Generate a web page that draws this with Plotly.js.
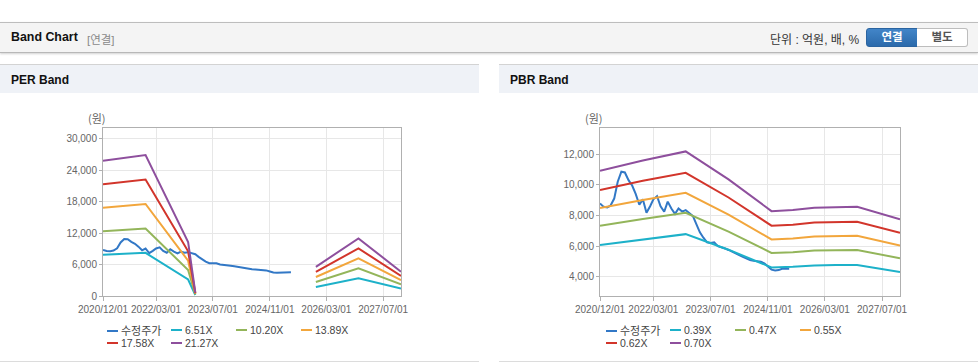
<!DOCTYPE html>
<html>
<head>
<meta charset="utf-8">
<script src="https://cdn.plot.ly/plotly-3.0.1.min.js"></script>
<style>
  html, body { margin:0; padding:0; background:#fff; width:978px; height:364px; overflow:hidden;
    font-family:"Liberation Sans", Arial, "Noto Sans CJK KR", sans-serif; }
  #topbar { position:absolute; left:0; top:22px; width:978px; height:29px; background:#f4f4f4;
    border-top:1px solid #bdbdbd; border-bottom:1px solid #b8b8b8; box-shadow:0 1px 2px rgba(0,0,0,0.18); }
  #topbar .title { position:absolute; left:11px; top:7px; font-size:12.4px; font-weight:bold; color:#111; }
  #topbar .sub { position:absolute; left:87px; top:8px; font-size:11.5px; color:#8a8a8a; }
  #topbar .unit { position:absolute; left:770px; top:7px; font-size:12px; color:#333; }
  .btn { position:absolute; top:5px; height:17px; width:50px; text-align:center; font-size:11.5px; font-weight:bold; line-height:17px; }
  #b1 { left:866px; background:linear-gradient(#4285c8,#2b6aab); color:#fff; border:1px solid #2b64a0; border-radius:3px 0 0 3px; }
  #b2 { left:917px; background:#fff; color:#555; border:1px solid #bdbdbd; border-left:none; border-radius:0 3px 3px 0; }
  .panel { position:absolute; top:64px; width:479px; height:297px; border-bottom:1px solid #dcdcdc; background:#fff; }
  .phead { position:absolute; left:0; top:0; width:479px; height:28px; background:#eff2f7; border-top:1px solid #d3d3d3; }
  .phead span { position:absolute; left:11px; top:8px; font-size:12px; font-weight:bold; color:#111; }
  .plot { position:absolute; left:0; top:29px; width:479px; height:269px; }
  .unitlbl { position:absolute; top:46px; font-size:11px; color:#666; font-family:"Noto Sans CJK KR", sans-serif; }
  .legend { position:absolute; left:0; top:258px; width:479px; height:30px; }
  .litem { position:absolute; height:13px; font-size:10.5px; color:#444; white-space:nowrap; line-height:13px; }
  .litem i { display:inline-block; width:11px; height:2px; vertical-align:middle; margin-right:3px; position:relative; top:-1px; }
  .litem .ko { font-family:"Noto Sans CJK KR", sans-serif; font-size:11px; }
</style>
</head>
<body>
<div id="topbar">
  <div class="title">Band Chart</div>
  <div class="sub">[연결]</div>
  <div class="unit">단위 : 억원, 배, %</div>
  <div class="btn" id="b1">연결</div>
  <div class="btn" id="b2">별도</div>
</div>

<div class="panel" id="perPanel" style="left:0;">
  <div class="phead"><span>PER Band</span></div>
  <div class="plot" id="perPlot"></div>
  <div class="unitlbl" style="left:88px;">(원)</div>
  <div class="legend" id="perLegend"></div>
</div>

<div class="panel" id="pbrPanel" style="left:499px;">
  <div class="phead"><span>PBR Band</span></div>
  <div class="plot" id="pbrPlot"></div>
  <div class="unitlbl" style="left:86px;">(원)</div>
  <div class="legend" id="pbrLegend"></div>
</div>

<script>
// ---------- Data ----------
const xTickVals = ['2020-12-01','2022-03-01','2023-07-01','2024-11-01','2026-03-01','2027-07-01'];
const xTickText = ['2020/12/01','2022/03/01','2023/07/01','2024/11/01','2026/03/01','2027/07/01'];

// 수정주가 (adjusted price), monthly
const priceDates = ['2020-12-01','2021-01-01','2021-02-01','2021-03-01','2021-04-01','2021-05-01','2021-06-01','2021-07-01','2021-08-01','2021-09-01','2021-10-01','2021-11-01',
  '2021-12-01','2022-01-01','2022-02-01','2022-03-01','2022-04-01','2022-05-01','2022-06-01','2022-07-01','2022-08-01','2022-09-01','2022-10-01','2022-11-01',
  '2022-12-01','2023-01-01','2023-02-01','2023-03-01','2023-04-01','2023-05-01','2023-06-01','2023-07-01','2023-08-01','2023-09-01','2023-10-01','2023-11-01',
  '2023-12-01','2024-01-01','2024-02-01','2024-03-01','2024-04-01','2024-05-01','2024-06-01','2024-07-01','2024-08-01','2024-09-01','2024-10-01','2024-11-01',
  '2024-12-01','2025-01-01','2025-02-01','2025-03-01','2025-04-01','2025-05-01'];
const price = [8780,8560,8520,8650,9100,10200,10850,10800,10300,9950,9400,8700,
  9050,8170,8600,9050,9260,8600,8240,8900,8450,8100,8450,8250,
  8350,8150,7950,7450,6900,6550,6250,6200,6250,6000,5950,5850,
  5750,5650,5520,5420,5300,5180,5100,5050,5000,4980,4880,4680,
  4470,4420,4440,4520,4520,4520];

// PER band
const perBandDates = ['2020-12-01','2021-12-01','2022-12-01','2023-02-01','2024-06-01','2025-12-01','2026-12-01','2027-12-01'];
const per651  = [7877, 8216, 3151, 195, null, 1699, 3359, 1413];
const per1020 = [12342,12872,4937, 306, null, 2662, 5263, 2213];
const per1389 = [16807,17529,6723, 417, null, 3625, 7167, 3014];
const per1758 = [21272,22186,8509, 527, null, 4588, 9071, 3815];
const per2127 = [25737,26843,10295,638, null, 5551, 10975,4616];
const perNames = ['수정주가','6.51X','10.20X','13.89X','17.58X','21.27X'];

// PBR band
const pbrBandDates = ['2020-12-01','2021-12-01','2022-12-01','2023-12-01','2024-12-01','2025-06-01','2025-12-01','2026-06-01','2026-12-01','2027-12-01'];
const pbr039 = [6076, 6451, 6782, 5768, 4614, 4653, 4739, 4766, 4774, 4321];
const pbr047 = [7323, 7774, 8173, 6951, 5560, 5607, 5711, 5743, 5753, 5208];
const pbr055 = [8480, 9010, 9480, 8060, 6440, 6500, 6620, 6660, 6670, 6040];
const pbr062 = [9660,10255,10782, 9170, 7335, 7397, 7533, 7576, 7589, 6870];
const pbr070 = [10906,11580,12175,10350,8282, 8350, 8505, 8555, 8568, 7756];
const pbrNames = ['수정주가','0.39X','0.47X','0.55X','0.62X','0.70X'];

const colors = ['#3278c6','#1db1c9','#93b55a','#f2a63c','#d2352b','#8e4f9d'];

const perYTicks = [0,6000,12000,18000,24000,30000];
const pbrYTicks = [4000,6000,8000,10000,12000];

// ---------- Build ----------
const FONT = '"Liberation Sans", Arial, "Noto Sans CJK KR", sans-serif';

function traces(bandDates, bands, names) {
  const t = [{x: priceDates, y: price, name: names[0], mode:'lines',
              line:{color:colors[0], width:2}, connectgaps:false}];
  bands.forEach((b, i) => t.push({x: bandDates, y: b, name: names[i+1], mode:'lines',
              line:{color:colors[i+1], width:2}, connectgaps:false}));
  return t;
}

function layout(yrange, ytickvals, ml, mr) {
  return {
    width:479, height:269,
    margin:{l:ml, r:mr, t:35, b:66, pad:0},
    paper_bgcolor:'rgba(0,0,0,0)', plot_bgcolor:'#fff',
    showlegend:false, hovermode:false,
    font:{family:FONT, size:10, color:'#666'},
    xaxis:{type:'date', range:['2020-12-01','2027-12-01'], tickmode:'array',
      tickvals:xTickVals, ticktext:xTickText, showgrid:true, gridcolor:'#e7e7e7', gridwidth:1,
      showline:true, linecolor:'#b0b0b0', linewidth:1, mirror:true, ticks:'outside', ticklen:4,
      tickcolor:'#b0b0b0', zeroline:false, fixedrange:true, tickfont:{size:10, color:'#666'}},
    yaxis:{range:yrange, tickmode:'array', tickvals:ytickvals, tickformat:',d', showgrid:true,
      gridcolor:'#e7e7e7', showline:true, linecolor:'#b0b0b0', linewidth:1, mirror:true,
      ticks:'outside', ticklen:3, tickcolor:'#b0b0b0', zeroline:false, fixedrange:true,
      tickfont:{size:10, color:'#666'}}
  };
}

Plotly.newPlot('perPlot', traces(perBandDates, [per651,per1020,per1389,per1758,per2127], perNames),
  layout([0,32000], perYTicks, 103, 78), {staticPlot:true, displayModeBar:false});
Plotly.newPlot('pbrPlot', traces(pbrBandDates, [pbr039,pbr047,pbr055,pbr062,pbr070], pbrNames),
  layout([2750,13700], pbrYTicks, 101, 78), {staticPlot:true, displayModeBar:false});

function legend(id, names) {
  const el = document.getElementById(id);
  const cols = [107, 171, 236, 301];
  names.forEach((n, i) => {
    const d = document.createElement('div');
    d.className = 'litem';
    d.style.left = cols[i % 4] + 'px';
    d.style.top = (Math.floor(i / 4) * 13 + 2) + 'px';
    const sw = document.createElement('i');
    sw.style.background = colors[i];
    d.appendChild(sw);
    const s = document.createElement('span');
    s.textContent = n;
    if (/[가-힣]/.test(n)) s.className = 'ko';
    d.appendChild(s);
    el.appendChild(d);
  });
}
legend('perLegend', perNames);
legend('pbrLegend', pbrNames);
</script>
</body>
</html>
